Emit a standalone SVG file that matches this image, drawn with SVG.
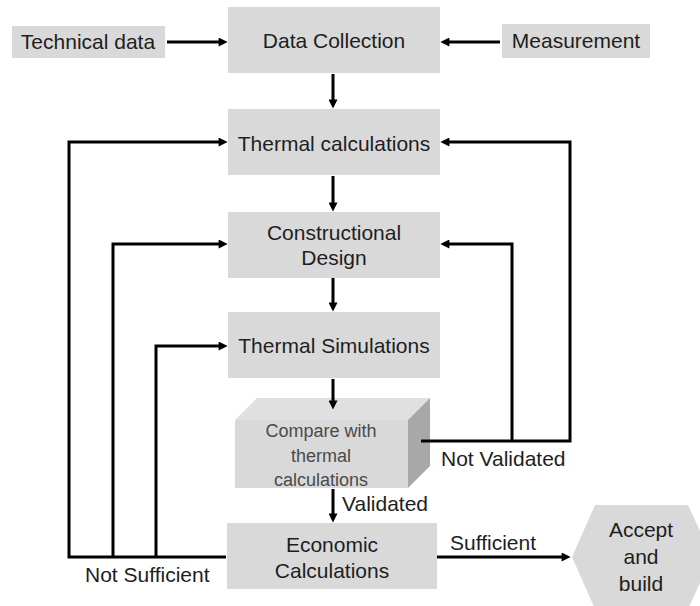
<svg xmlns="http://www.w3.org/2000/svg" width="700" height="606" viewBox="0 0 700 606">
<style>
.box{fill:#d9d9d9}
.t{font-family:"Liberation Sans",Arial,sans-serif;font-size:21px;fill:#1e1e1e;text-anchor:middle}
.s{font-size:18px;fill:#4a4a4a}
.l{text-anchor:start}
.c{fill:none;stroke:#000;stroke-width:3;stroke-linejoin:miter}
</style>
<defs>
<marker id="ah" viewBox="0 0 10 10" refX="6" refY="5" markerWidth="10" markerHeight="9" markerUnits="userSpaceOnUse" orient="auto">
<path d="M0,0 L10,5 L0,10 z" fill="#000"/>
</marker>
</defs>
<rect width="700" height="606" fill="#fff"/>
<g id="technical-data"><rect class="box" x="12" y="26" width="153" height="32"/><text class="t" x="88" y="49">Technical data</text></g>
<g id="data-collection"><rect class="box" x="228" y="7" width="212" height="66"/><text class="t" x="334" y="48">Data Collection</text></g>
<g id="measurement"><rect class="box" x="502" y="24" width="148" height="34"/><text class="t" x="576" y="48">Measurement</text></g>
<g id="thermal-calculations"><rect class="box" x="228" y="109" width="212" height="66"/><text class="t" x="334" y="151">Thermal calculations</text></g>
<g id="constructional-design"><rect class="box" x="228" y="212" width="212" height="66"/><text class="t" x="334" y="240">Constructional</text><text class="t" x="334" y="265">Design</text></g>
<g id="thermal-simulations"><rect class="box" x="228" y="312" width="212" height="66"/><text class="t" x="334" y="353">Thermal Simulations</text></g>
<g id="compare">
<polygon points="235,420 257,398 430,398 408,420" fill="#e0e0e0"/>
<polygon points="408,420 430,398 430,466 408,488" fill="#a8a8a8"/>
<rect class="box" x="235" y="420" width="173" height="68"/>
<text class="t s" x="321" y="437">Compare with</text><text class="t s" x="321" y="462">thermal</text><text class="t s" x="321" y="486">calculations</text>
</g>
<g id="economic-calculations"><rect class="box" x="227" y="523" width="210" height="66"/><text class="t" x="332" y="552">Economic</text><text class="t" x="332" y="578">Calculations</text></g>
<g id="accept-and-build"><polygon class="box" points="572,557 595,505 688,505 712,557 688,609 595,609"/><text class="t" x="641" y="537">Accept</text><text class="t" x="641" y="564">and</text><text class="t" x="641" y="591">build</text></g>
<g id="connectors">
<path class="c" d="M167,42 H224" marker-end="url(#ah)"/>
<path class="c" d="M500,42 H444" marker-end="url(#ah)"/>
<path class="c" d="M333,74 V105" marker-end="url(#ah)"/>
<path class="c" d="M333,176 V208" marker-end="url(#ah)"/>
<path class="c" d="M333,278 V308" marker-end="url(#ah)"/>
<path class="c" d="M333,379 V406" marker-end="url(#ah)"/>
<path class="c" d="M333,489 V519" marker-end="url(#ah)"/>
<path class="c" d="M437,557 H567" marker-end="url(#ah)"/>
<path class="c" d="M226,557 H69 V142 H224" marker-end="url(#ah)"/>
<path class="c" d="M113,557 V244 H224" marker-end="url(#ah)"/>
<path class="c" d="M156,557 V346 H224" marker-end="url(#ah)"/>
<path class="c" d="M421,441 H570 V142 H444" marker-end="url(#ah)"/>
<path class="c" d="M512,441 V244 H444" marker-end="url(#ah)"/>
<text class="t l" x="342" y="511">Validated</text>
<text class="t l" x="450" y="550">Sufficient</text>
<text class="t l" x="85" y="582">Not Sufficient</text>
<text class="t l" x="441" y="466">Not Validated</text>
</g>
</svg>
